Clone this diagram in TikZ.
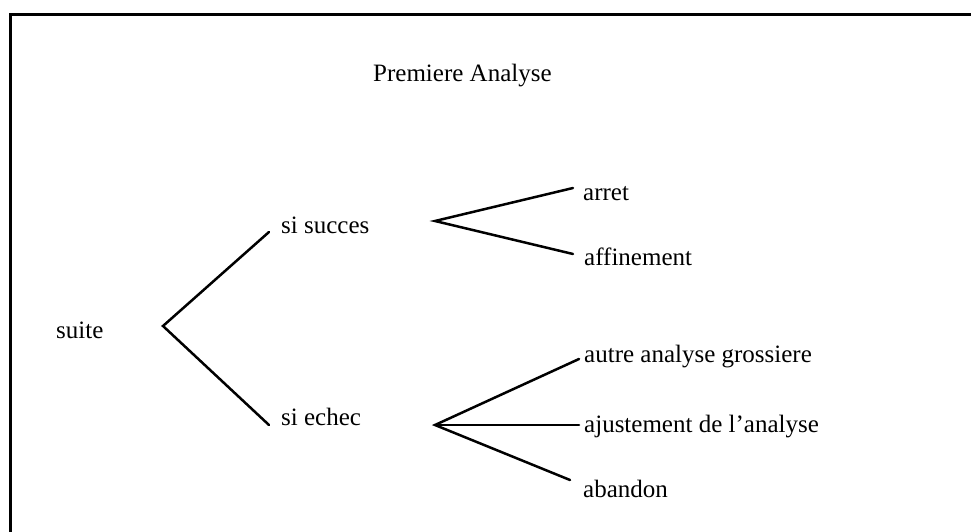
\documentclass[tikz,border=0pt]{standalone}
\usepackage{fontspec}
\setmainfont{Liberation Serif}
\begin{document}
\begin{tikzpicture}[x=1pt,y=-1pt,
  lbl/.style={anchor=base west, inner sep=0pt, font=\fontsize{25}{30}\selectfont},
  conn/.style={line width=2.5pt, line cap=round}]
\useasboundingbox (0,0) rectangle (971,532);
\draw[line width=3pt] (10,532) -- (10,15) -- (971,15);

\node[lbl] (title) at (373,82) {Premiere Analyse};
\node[lbl] (suite) at (56,338) {suite};
\node[lbl] (ss) at (281,233) {si succes};
\node[lbl] (se) at (281,425) {si echec};
\node[lbl] (arret) at (583,200) {arret};
\node[lbl] (aff) at (584,265) {affinement};
\node[lbl] (autre) at (584,362) {autre analyse grossiere};
\node[lbl] (ajust) at (584,432) {ajustement de l’analyse};
\node[lbl] (aband) at (583,497) {abandon};

\coordinate (f1) at (163,326);
\coordinate (f2) at (435,221);
\coordinate (f3) at (435,425);
\coordinate (ss-in) at (269,232);
\coordinate (se-in) at (269,425);
\coordinate (arret-in) at (573,188);
\coordinate (aff-in) at (573,254);
\coordinate (autre-in) at (579,359);
\coordinate (ajust-in) at (579,425);
\coordinate (aband-in) at (570,480);

\draw[conn] (ss-in) -- (f1) -- (se-in);
\draw[conn] (arret-in) -- (f2) -- (aff-in);
\draw[conn] (autre-in) -- (f3) -- (aband-in);
\draw[conn] (f3) -- (ajust-in);
\end{tikzpicture}
\end{document}
